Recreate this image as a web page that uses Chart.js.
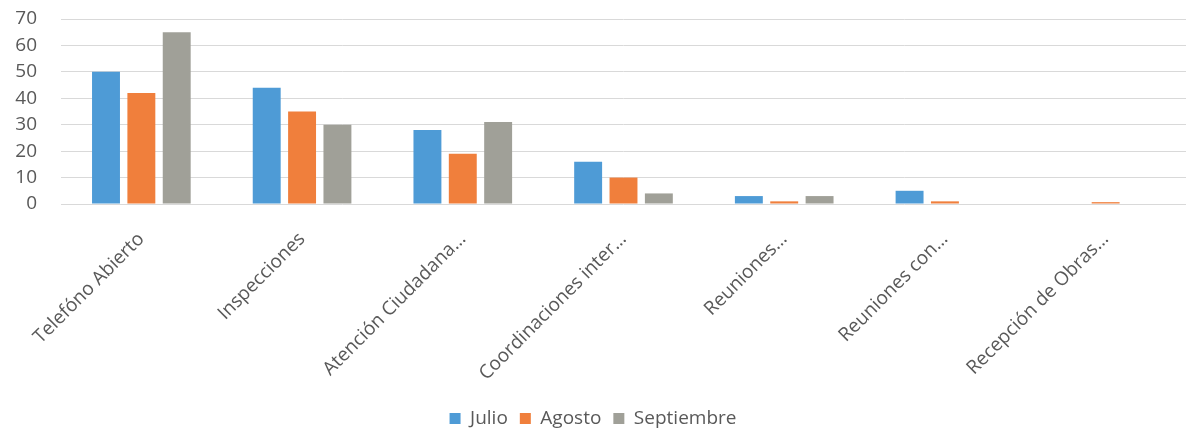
<!DOCTYPE html>
<html>
<head>
<meta charset="utf-8">
<script src="https://cdn.jsdelivr.net/npm/chart.js@4.4.1/dist/chart.umd.min.js"></script>
<style>
  html, body { margin: 0; padding: 0; background: #fff; }
  #wrap { width: 1188px; height: 440px; }
</style>
</head>
<body>
<div id="wrap"><canvas id="chart1"></canvas></div>
<script>
/* data */
const labels = [
    'Telefóno Abierto',
    'Inspecciones',
    'Atención Ciudadana…',
    'Coordinaciones inter…',
    'Reuniones…',
    'Reuniones con…',
    'Recepción de Obras…'
]

const julio = [50, 44, 28, 16, 3, 5, 0]
const agosto = [42, 35, 19, 10, 1, 1, 0.7]
const septiembre = [65, 30, 31, 4, 3, 0, 0]

const yTicks = [0, 10, 20, 30, 40, 50, 60, 70]

const textColor = '#595959'
const font = { family: 'Open Sans', size: 19 }

const ctx = document.getElementById('chart1');

const data = {
    labels,
    datasets: [
        { label: 'Julio', data: julio, backgroundColor: '#4e9bd6' },
        { label: 'Agosto', data: agosto, backgroundColor: '#f07f3c' },
        { label: 'Septiembre', data: septiembre, backgroundColor: '#a0a098' }
    ]
}

const config = {
    type: 'bar',
    data,
    options: {
        responsive: true,
        maintainAspectRatio: false,
        animation: false,
        categoryPercentage: 0.66,
        barPercentage: 0.79,
        layout: { padding: { top: 19, right: 2, left: 0, bottom: 2 } },
        plugins: {
            legend: {
                position: 'bottom',
                labels: {
                    boxWidth: 11,
                    boxHeight: 11,
                    padding: 12,
                    color: textColor,
                    font
                }
            },
            tooltip: { enabled: false }
        },
        scales: {
            x: {
                grid: { display: false, drawTicks: false },
                border: { display: false },
                ticks: {
                    color: textColor,
                    font,
                    minRotation: 45,
                    maxRotation: 45,
                    autoSkip: false,
                    padding: 24
                },
                afterFit: (scale) => { scale.height = 193; }
            },
            y: {
                min: 0,
                max: 70,
                afterBuildTicks: (scale) => { scale.ticks = yTicks.map(v => ({ value: v })); },
                grid: { color: '#d9d9d9', drawTicks: false },
                border: { display: false },
                ticks: {
                    color: textColor,
                    font,
                    autoSkip: false,
                    padding: 24
                },
                afterFit: (scale) => {
                    scale.width = 61;
                    scale.paddingTop = 0;
                    scale.paddingBottom = 0;
                }
            }
        }
    }
};

const chart1 = new Chart(ctx, config);
</script>
</body>
</html>
